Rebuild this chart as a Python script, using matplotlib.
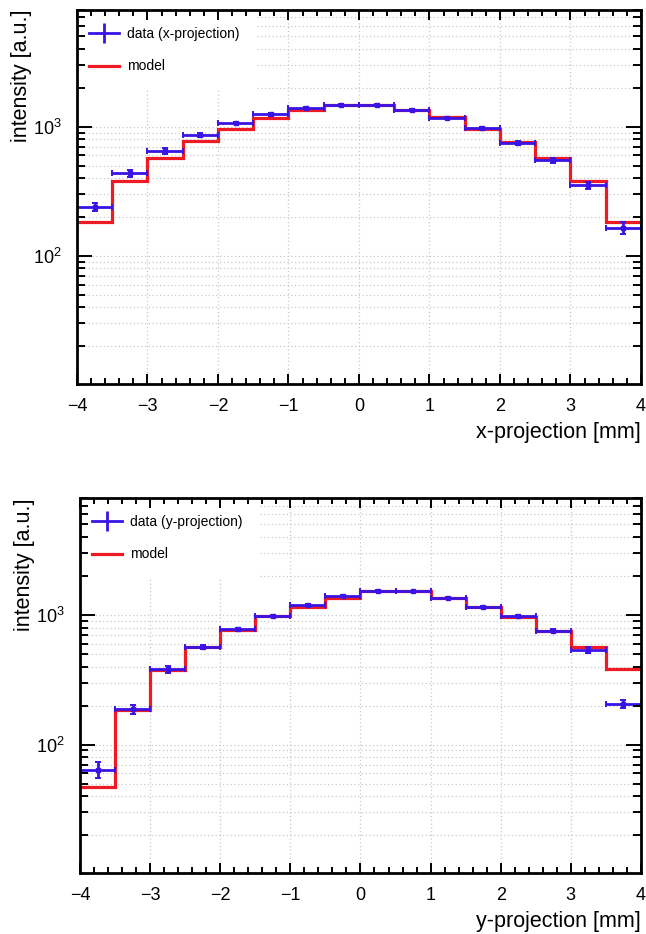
import numpy as np
import matplotlib
matplotlib.use("Agg")
import matplotlib.pyplot as plt
from matplotlib.lines import Line2D
from matplotlib.ticker import LogLocator, FixedLocator, MultipleLocator, NullFormatter, LogFormatterSciNotation

plt.rcParams['font.family'] = ['Liberation Sans', 'DejaVu Sans']
plt.rcParams['mathtext.fontset'] = 'custom'
plt.rcParams['mathtext.rm'] = 'Liberation Sans'
plt.rcParams['mathtext.it'] = 'Liberation Sans:italic'

# ---- data ----
bin_edges = [-4.0, -3.5, -3.0, -2.5, -2.0, -1.5, -1.0, -0.5, 0.0, 0.5, 1.0, 1.5, 2.0, 2.5, 3.0, 3.5, 4.0]
x_data = [240, 436, 649, 862, 1068, 1248, 1389, 1472, 1472, 1346, 1167, 971, 752, 549, 351, 165]
x_err = [17, 27, 30, 28, 28, 35, 25, 22, 22, 22, 25, 25, 27, 25, 24, 17]
x_model = [184, 379, 575, 771, 966, 1161, 1346, 1465, 1465, 1340, 1180, 965, 766, 575, 381, 184]

y_data = [64, 188, 380, 571, 778, 986, 1198, 1397, 1527, 1520, 1348, 1148, 979, 759, 540, 207]
y_err = [9, 15, 21, 20, 20, 20, 20, 22, 22, 22, 22, 20, 20, 20, 28, 15]
y_model = [47, 184, 378, 568, 770, 975, 1163, 1358, 1527, 1545, 1348, 1148, 965, 759, 571, 380]

x_ticks = [-4, -3, -2, -1, 0, 1, 2, 3, 4]

BLUE = '#3a14e6'
RED = '#ee1a24'
GRID = '#c8c8c8'

fig = plt.figure(figsize=(6.46, 9.34), dpi=100)
ax1 = fig.add_axes([0.1192, 0.5889, 0.873, 0.4004])
ax2 = fig.add_axes([0.1238, 0.0653, 0.8684, 0.4015])


def draw(ax, data, err, model, label, xlabel):
    edges = np.array(bin_edges)
    centers = 0.5 * (edges[:-1] + edges[1:])
    half = 0.5 * np.diff(edges)
    ax.set_yscale('log')
    ax.stairs(model, edges, color=RED, lw=2.3, baseline=None, zorder=2)
    ax.errorbar(centers, data, xerr=half, yerr=err, fmt='s', ms=3.2, color=BLUE,
                ecolor=BLUE, elinewidth=2, capsize=2.2, capthick=1.4, zorder=2.2)
    ax.set_xlim(-4, 4)
    ax.set_ylim(10.2, 8000)
    ax.xaxis.set_major_locator(FixedLocator(x_ticks))
    ax.xaxis.set_minor_locator(MultipleLocator(0.2))
    ax.yaxis.set_major_locator(LogLocator(base=10, numticks=10))
    ax.yaxis.set_minor_locator(LogLocator(base=10, subs=np.arange(2, 10), numticks=20))
    ax.yaxis.set_major_formatter(LogFormatterSciNotation())
    ax.yaxis.set_minor_formatter(NullFormatter())
    ax.set_axisbelow(False)
    ax.grid(False)
    # dotted grid drawn beneath everything (at the tick positions)
    ylo, yhi = ax.get_ylim()
    for xv in ax.get_xticks():
        if -4 < xv < 4:
            ax.axvline(xv, ls=(0, (1, 2)), color=GRID, lw=0.9, zorder=0.3)
    ylocs = list(ax.yaxis.get_majorticklocs()) + list(ax.yaxis.get_minorticklocs())
    for yv in ylocs:
        if ylo < yv < yhi:
            ax.axhline(yv, ls=(0, (1, 2)), color=GRID, lw=0.9, zorder=0.3)
    for s in ax.spines.values():
        s.set_linewidth(2)
    ax.tick_params(which='both', direction='in', top=True, right=True, width=1.4, labelsize=13)
    ax.tick_params(axis='x', which='major', length=7, pad=10)
    ax.tick_params(axis='x', which='minor', length=4)
    ax.tick_params(axis='y', which='major', length=11, pad=11)
    ax.tick_params(axis='y', which='minor', length=6)
    ax.set_xlabel(xlabel, fontsize=15.5, loc='right', labelpad=5)
    ax.set_ylabel('intensity [a.u.]', fontsize=15.5, loc='top', labelpad=0.5)
    h_data = Line2D([], [], color=BLUE, lw=2, marker='|', ms=15, mew=2)
    h_model = Line2D([], [], color=RED, lw=2.3)
    leg = ax.legend(handles=[h_data, h_model], labels=[label, 'model'],
                    loc='upper left', bbox_to_anchor=(-5.0 / 564, 1.0), fontsize=10, numpoints=1,
                    frameon=True, fancybox=False, framealpha=1, facecolor='white',
                    edgecolor='none', handlelength=2.2, handletextpad=0.55,
                    labelspacing=1.35, borderpad=1.2, borderaxespad=0.0)
    leg.set_zorder(1)


draw(ax1, x_data, x_err, x_model, 'data (x-projection)', 'x-projection [mm]')
draw(ax2, y_data, y_err, y_model, 'data (y-projection)', 'y-projection [mm]')

fig.savefig('out.png', dpi=100)
